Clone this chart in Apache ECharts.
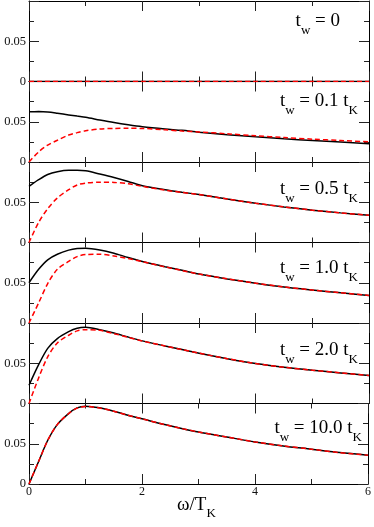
<!DOCTYPE html>
<html><head><meta charset="utf-8">
<script src="https://cdn.jsdelivr.net/npm/echarts@6/dist/echarts.min.js"></script>
<style>html,body{margin:0;padding:0;background:#fff}#c{width:374px;height:527px}</style>
</head><body><div id="c"></div>
<script>
// omega / T_K sample positions
const omega = [0,0.17,0.33,0.5,0.7,0.85,1,1.25,1.5,1.75,2,2.4,2.7,3,3.5,4,4.5,5,5.5,6];
// panel labels (t_w values)
const twLabels = ['0','0.1','0.5','1.0','2.0','10.0'];
// black solid curves
const black0  = [0,0,0,0,0,0,0,0,0,0,0,0,0,0,0,0,0,0,0,0];
const black01 = [0.0625,0.0626,0.062,0.0605,0.0585,0.057,0.0556,0.0522,0.049,0.0462,0.0438,0.041,0.0393,0.037,0.034,0.0313,0.0288,0.0267,0.0247,0.0226];
const black05 = [0.0697,0.078,0.0845,0.088,0.0898,0.0898,0.089,0.085,0.0807,0.0758,0.0705,0.0655,0.0625,0.0595,0.054,0.0488,0.0442,0.0402,0.0368,0.0339];
const black10 = [0.050,0.0667,0.0785,0.0854,0.0905,0.0925,0.0929,0.0908,0.0867,0.0813,0.0765,0.070,0.0655,0.0608,0.0548,0.0495,0.0448,0.041,0.0375,0.0342];
const black20 = [0.0227,0.0483,0.0685,0.0806,0.0892,0.0935,0.0946,0.0917,0.0876,0.0825,0.0778,0.0715,0.067,0.0625,0.0557,0.0496,0.045,0.0413,0.038,0.0347];
const black100= [0,0.028,0.054,0.0738,0.0875,0.0945,0.0967,0.0946,0.0904,0.0854,0.081,0.0738,0.069,0.0646,0.0584,0.0523,0.0473,0.0432,0.039,0.0358];
// red dashed curves
const red0  = [0,0,0,0,0,0,0,0,0,0,0,0,0,0,0,0,0,0,0,0];
const red01 = [0,0.0125,0.021,0.027,0.0335,0.0365,0.0388,0.041,0.0417,0.0418,0.0417,0.040,0.0385,0.0374,0.035,0.0325,0.0304,0.0284,0.0267,0.0251];
const red05 = [0,0.025,0.042,0.0553,0.0656,0.0715,0.0738,0.075,0.0746,0.073,0.0697,0.065,0.0622,0.0595,0.054,0.0488,0.0442,0.0402,0.0368,0.0339];
const red10 = [0,0.025,0.049,0.0667,0.0765,0.0825,0.085,0.0854,0.0833,0.080,0.0762,0.0697,0.0652,0.0608,0.0548,0.0495,0.0448,0.041,0.0375,0.0342];
const red20 = [0,0.0318,0.058,0.0752,0.0848,0.0902,0.0917,0.0909,0.0868,0.0822,0.0776,0.0715,0.067,0.0625,0.0557,0.0496,0.045,0.0413,0.038,0.0347];
const red100= [0,0.028,0.054,0.0738,0.0873,0.0942,0.0963,0.0944,0.0903,0.0854,0.081,0.0738,0.069,0.0646,0.0584,0.0523,0.0473,0.0432,0.039,0.0358];
// tick labels
const xTickLabels = ['0','2','4','6'];
const yTickLabels = ['0','0.05'];

const blacks = [black0,black01,black05,black10,black20,black100];
const reds = [red0,red01,red05,red10,red20,red100];

const FONT = "'Liberation Serif','Times New Roman',serif";
const panelTops = [1,81.5,162,242.5,323,403.5];
const panelH = 80.5;
const labelY = [26,106,194,273,355,433];
const labelRight = [340,358,358,358,358,362];

const grids=[], xAxes=[], yAxes=[], series=[], graphics=[];
const zip = (a,b)=>a.map((v,i)=>[v,b[i]]);
for (let i=0;i<6;i++){
  grids.push({left:29,right:5,top:panelTops[i],height:panelH});
  const axLine = {show:true,onZero:false,lineStyle:{color:'#000',width:1}};
  const xbase = {gridIndex:i,type:'value',min:0,max:6,interval:2,
    axisLine:axLine,splitLine:{show:false},
    axisTick:{show:true,inside:true,length:10,lineStyle:{color:'#222',width:1}},
    minorTick:{show:true,splitNumber:2,length:5,lineStyle:{color:'#222',width:1}},
    minorSplitLine:{show:false}};
  xAxes.push(Object.assign({},xbase,{position:'bottom',
    axisLabel:{show:i===5,fontFamily:FONT,fontSize:12,color:'#111',margin:2,
      formatter:v=>{const k=[0,2,4,6].indexOf(v);return k>=0?xTickLabels[k]:'';}}}));
  xAxes.push(Object.assign({},xbase,{position:'top',axisLabel:{show:false}}));
  const ybase = {gridIndex:i,type:'value',min:0,max:0.1,interval:0.05,
    axisLine:axLine,splitLine:{show:false},
    axisTick:{show:true,inside:true,length:10,lineStyle:{color:'#222',width:1}},
    minorTick:{show:true,splitNumber:2,length:5,lineStyle:{color:'#222',width:1}},
    minorSplitLine:{show:false}};
  yAxes.push(Object.assign({},ybase,{position:'left',
    axisLabel:{show:true,fontFamily:FONT,fontSize:12.5,color:'#111',margin:3,
      formatter:v=>{if(Math.abs(v)<1e-9)return yTickLabels[0];if(Math.abs(v-0.05)<1e-9)return yTickLabels[1];return '';}}}));
  yAxes.push(Object.assign({},ybase,{position:'right',axisLabel:{show:false}}));
  series.push({type:'line',xAxisIndex:2*i,yAxisIndex:2*i,data:zip(omega,blacks[i]),
    showSymbol:false,smooth:0.3,lineStyle:{color:'#000',width:1.5},z:3});
  series.push({type:'line',xAxisIndex:2*i,yAxisIndex:2*i,data:zip(omega,reds[i]),
    showSymbol:false,smooth:0.3,lineStyle:{color:'#ff0000',width:1.5,type:[5,3]},z:4});
  const txt = i===0 ? '{m|t}{s|w}{m| = '+twLabels[i]+'}' : '{m|t}{s|w}{m| = '+twLabels[i]+' t}{s|K}';
  graphics.push({type:'text',right:374-labelRight[i],top:labelY[i]-14,
    style:{text:txt,fill:'#000',rich:{
      m:{fontFamily:FONT,fontSize:19,fill:'#000'},
      s:{fontFamily:FONT,fontSize:13,fill:'#000',padding:[18,0,0,0]}}}});
}
graphics.push({type:'text',left:177,top:496,
  style:{text:'{m|\u03c9/T}{s|K}',fill:'#000',rich:{
    m:{fontFamily:FONT,fontSize:19,fill:'#000'},
    s:{fontFamily:FONT,fontSize:13,fill:'#000',padding:[16,0,0,0]}}}});

const chart = echarts.init(document.getElementById('c'),null,{renderer:'canvas'});
chart.setOption({animation:false,grid:grids,xAxis:xAxes,yAxis:yAxes,series:series,graphic:graphics});
</script></body></html>
